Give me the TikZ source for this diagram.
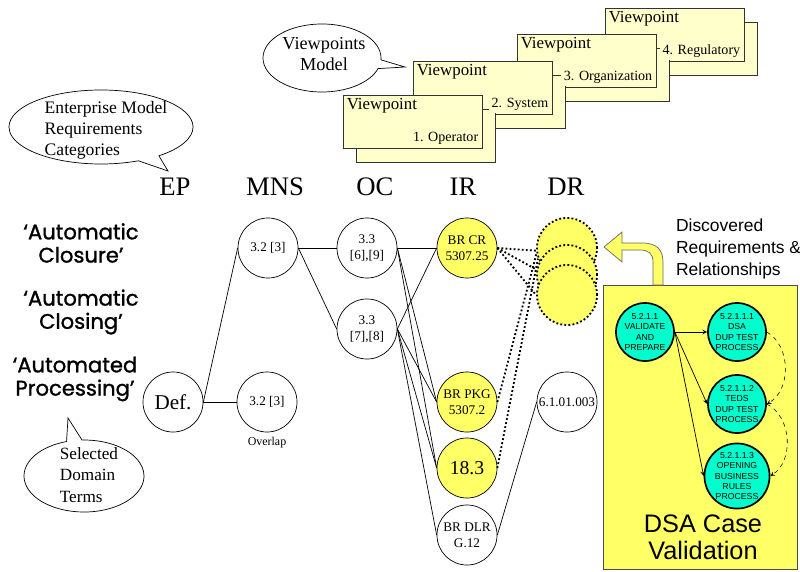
\documentclass[tikz,border=0pt]{standalone}
\usepackage{fontspec}
\setmainfont{Liberation Serif}
\newfontfamily\arialfont{Liberation Sans}
\newfontfamily\gothicfont[FakeBold=1.2]{Poppins}
\usetikzlibrary{positioning}
\usetikzlibrary{shapes.callouts}
\usetikzlibrary{arrows}

\definecolor{paleyellow}{RGB}{255,255,204}
\definecolor{brightyellow}{RGB}{255,255,102}
\definecolor{aquagreen}{RGB}{0,255,204}

\begin{document}
\begin{tikzpicture}[x=0.025cm,y=-0.025cm,>=stealth,line width=0.5pt]
\tikzstyle{v}=[circle,draw,minimum size=1.5cm,inner sep=0pt,align=center,font=\fontsize{9.4}{11.5}\selectfont]
\tikzstyle{vy}=[v,fill=brightyellow]
\tikzstyle{dr}=[circle,draw,fill=brightyellow,minimum size=1.5cm,line width=1.3pt,dash pattern=on 1.3pt off 1.6pt]
\tikzstyle{dl}=[line width=1.3pt,dash pattern=on 1.3pt off 1.6pt]
\tikzstyle{hd}=[font=\fontsize{19}{21}\selectfont]
\tikzstyle{term}=[align=center,font=\gothicfont\fontsize{15}{16.5}\selectfont]
\tikzstyle{bubble}=[ellipse callout,draw,fill=white,inner sep=0pt]
\tikzstyle{vp}=[draw=black!80,fill=paleyellow,minimum width=3.475cm,minimum height=1.325cm,inner sep=0pt]
\tikzstyle{vpt}=[anchor=north west,fill=paleyellow,inner sep=2pt,font=\fontsize{12}{14}\selectfont]
\tikzstyle{vpn}=[anchor=south east,fill=paleyellow,inner sep=2pt,font=\fontsize{10}{12}\selectfont]
\tikzstyle{tc}=[circle,draw,line width=1.2pt,fill=aquagreen,minimum size=1.45cm,inner sep=0pt,align=center,font=\arialfont\fontsize{6.2}{7.4}\selectfont]
\useasboundingbox (0,0) rectangle (800,571);

% viewpoint stack
\node[vp]	(B4s)	at (687.5,48.5)		{};
\node[vp]	(B4)	at (674.5,34.5)		{};
\node[vp]	(B3s)	at (599.5,74.5)		{};
\node[vp]	(B3)	at (586.5,60.5)		{};
\node[vp]	(B2s)	at (495.5,101.5)	{};
\node[vp]	(B2)	at (482.5,87.5)		{};
\node[vp]	(B1s)	at (425.5,135.5)	{};
\node[vp]	(B1)	at (412.5,121.5)	{};
\node[vpt]	at ([shift={(1,1)}]B4.north west)	{Viewpoint};
\node[vpn]	at ([shift={(-1,-1)}]B4.south east)	{4. Regulatory};
\node[vpt]	at ([shift={(1,1)}]B3.north west)	{Viewpoint};
\node[vpn]	at ([shift={(-1,-1)}]B3.south east)	{3. Organization};
\node[vpt]	at ([shift={(1,1)}]B2.north west)	{Viewpoint};
\node[vpn]	at ([shift={(-1,-1)}]B2.south east)	{2. System};
\node[vpt]	at ([shift={(1,1)}]B1.north west)	{Viewpoint};
\node[vpn]	at ([shift={(-1,-1)}]B1.south east)	{1. Operator};

% callouts
\node[bubble,minimum width=2.95cm,minimum height=1.7cm,callout absolute pointer={(405,67)}]	(cVM)	at (322,58)	{};
\node[align=center,font=\fontsize{13}{15}\selectfont]	at (324,54)	{Viewpoints\\Model};
\node[bubble,minimum width=4.6cm,minimum height=1.85cm,callout absolute pointer={(168,171)}]	(cEM)	at (101,127)	{};
\node[align=left,font=\fontsize{12.5}{15}\selectfont]	at (106,130)	{Enterprise Model\\Requirements\\Categories};
\node[bubble,minimum width=3.0cm,minimum height=1.8cm,callout absolute pointer={(68,418)}]	(cSD)	at (84,476)	{};
\node[align=left,font=\fontsize{12.2}{15.5}\selectfont]	at (89,475)	{Selected\\Domain\\Terms};

% column heads and terms
\node[hd]	(hEP)	at (175,187)	{EP};
\node[hd]	(hMNS)	at (275,187)	{MNS};
\node[hd]	(hOC)	at (375,187)	{OC};
\node[hd]	(hIR)	at (463,187)	{IR};
\node[hd]	(hDR)	at (566,187)	{DR};
\node[term]	(tClosure)	at (81,243)		{‘Automatic\\Closure’};
\node[term]	(tClosing)	at (81,312)		{‘Automatic\\Closing’};
\node[term]	(tProc)		at (75,379)		{‘Automated\\Processing’};

% trace nodes
\node[v,font=\fontsize{15}{17}\selectfont]	(Def)	at (173,402)	{Def.};
\node[v]	(M1)	at (268,248)	{3.2 [3]};
\node[v]	(M2)	at (267,402)	{3.2 [3]};
\node[font=\fontsize{8.5}{10}\selectfont]	(ovl)	[below=0pt of M2]	{Overlap};
\node[v]	(O1)	at (367,248)	{3.3\\{}[6],[9]};
\node[v]	(O2)	at (367,329)	{3.3\\{}[7],[8]};
\node[vy]	(I1)	at (467,248)	{BR CR\\5307.25};
\node[vy]	(I2)	at (467,402)	{BR PKG\\5307.2};
\node[vy,font=\fontsize{14}{16}\selectfont]	(I3)	at (467,468)	{18.3};
\node[v]	(I4)	at (467,535)	{BR DLR\\G.12};
\node[v]	(D4)	at (567,402)	{6.1.01.003};
\node[dr]	(D1)	at (567,248)	{};
\node[dr]	(D2)	at (567,275)	{};
\node[dr]	(D3)	at (567,295)	{};

\path(Def.east)	edge	node	{}	(M1.west)
     (Def.east)	edge	node	{}	(M2.west)
     (M1.east)	edge	node	{}	(O1.west)
     (M1.east)	edge	node	{}	(O2.west)
     (O1.east)	edge	node	{}	(I1.west)
     (O1.east)	edge	node	{}	(I2.west)
     (O1.east)	edge	node	{}	(I3.west)
     (O2.east)	edge	node	{}	(I1.west)
     (O2.east)	edge	node	{}	(I2.west)
     (O2.east)	edge	node	{}	(I3.west)
     (O2.east)	edge	node	{}	(I4.west)
     (I4.east)	edge	node	{}	(D4.west);
\path[dl](I1.east)	edge	node	{}	(D1.185)
     (I1.east)	edge	node	{}	(D2.170)
     (I1.east)	edge	node	{}	(D3.180)
     (I2.east)	edge	node	{}	(D1.190)
     (I3.east)	edge	node	{}	(D1.200);

% case validation panel
\draw[draw=black!70,fill=brightyellow] (603,285) rectangle (797,569);
\draw[draw=black!60,fill=brightyellow] (653,285) -- (653,262) .. controls (653,254) and (649,250) .. (640,250)
     -- (622,250) -- (622,262) -- (604,247) -- (622,232) -- (622,243) -- (642,243)
     .. controls (657,243) and (663,250) .. (663,262) -- (663,285) -- cycle;
\node[anchor=west,align=left,font=\arialfont\fontsize{12.4}{15.6}\selectfont]	(disc)	at (671,249)	{Discovered\\Requirements \&\\Relationships};
\node[tc]	(c1)	at (645,332)	{5.2.1.1\\VALIDATE\\AND\\PREPARE};
\node[tc]	(c11)	at (737,332)	{5.2.1.1.1\\DSA\\DUP TEST\\PROCESS};
\node[tc]	(c12)	at (737,404)	{5.2.1.1.2\\TEDS\\DUP TEST\\PROCESS};
\node[tc]	(c13)	at (737,476)	{5.2.1.1.3\\OPENING\\BUSINESS\\RULES\\PROCESS};
\path[->](c1.east)	edge	node	{}	(c11.west)
     (c1.east)	edge	node	{}	(c12.west)
     (c1.east)	edge	node	{}	(c13.west);
\path[->,dashed,thin](c11.east)	edge[bend left=60]	node	{}	(c12.east)
     (c12.east)	edge[bend left=60]	node	{}	(c13.east);
\node[align=center,font=\arialfont\fontsize{18}{19.5}\selectfont]	(dsa)	at (703,537)	{DSA Case\\Validation};
\end{tikzpicture}
\end{document}
